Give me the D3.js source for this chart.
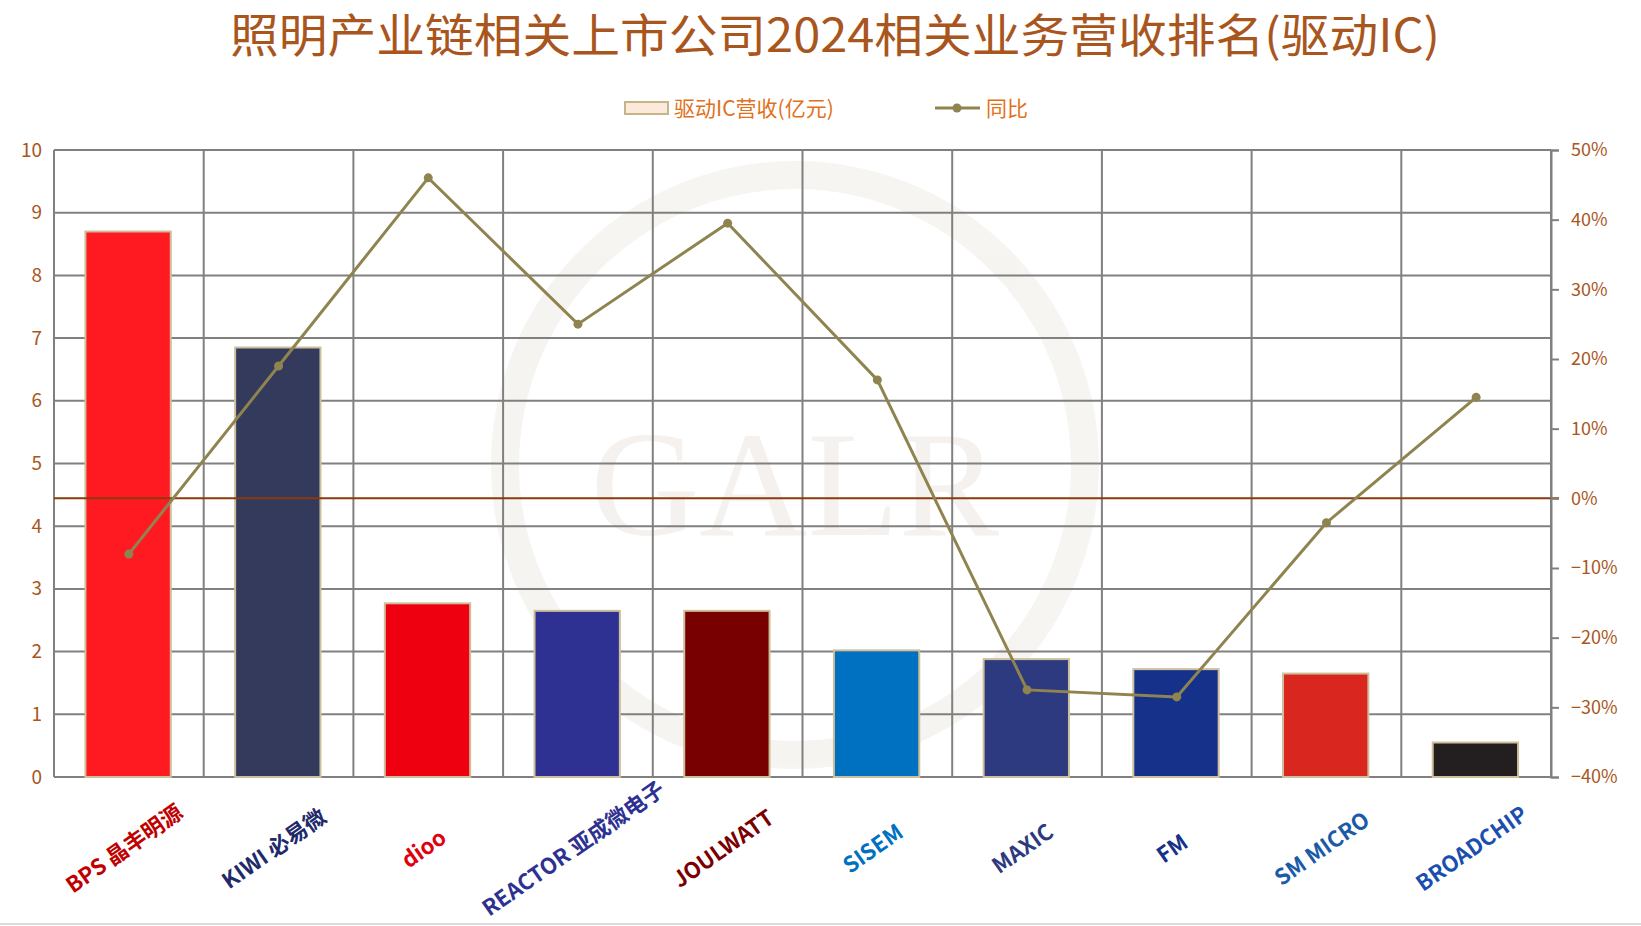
<!DOCTYPE html>
<html><head><meta charset="utf-8">
<script src="https://cdn.jsdelivr.net/npm/d3@7"></script>
<style>body{margin:0;background:#fff}svg{display:block}</style></head>
<body><svg id="c" width="1641" height="926"></svg>
<script>
const companies=["BPS 晶丰明源","KIWI 必易微","dioo","REACTOR 亚成微电子","JOULWATT","SISEM","MAXIC","FM","SM MICRO","BROADCHIP"];
const labelColors=["#c00000","#1f2a6b","#e00010","#2e3192","#7a0000","#0070c0","#2e3a80","#15318a","#1a5aa8","#1a4fb0"];
const revenue=[8.7,6.85,2.77,2.65,2.65,2.02,1.88,1.72,1.65,0.55];
const yoy=[-0.08,0.19,0.46,0.25,0.395,0.17,-0.275,-0.285,-0.035,0.145];
const barColors=["#FF1A22","#343A5C","#EE0010","#2E3192","#790000","#0070C0","#2E3A80","#15318A","#D9261F","#231F20"];
const leftTicks=[0,1,2,3,4,5,6,7,8,9,10];
const rightTicks=[-0.4,-0.3,-0.2,-0.1,0,0.1,0.2,0.3,0.4,0.5];

const svg=d3.select("#c");
const L=54,R=1551,T=150,B=777;
const x=d3.scaleBand().domain(companies).range([L,R]).paddingInner(0).paddingOuter(0);
const y=d3.scaleLinear().domain([0,10]).range([B,T]);
const y2=d3.scaleLinear().domain([-0.4,0.5]).range([B,T]);
const font="'Noto Sans CJK SC','Noto Sans',sans-serif";
const tc="#A9561E";

const wm=svg.append("g").attr("opacity",0.07);
wm.append("circle").attr("cx",795).attr("cy",465).attr("r",290).attr("fill","none").attr("stroke","#8b6b3a").attr("stroke-width",28);
wm.append("text").attr("x",795).attr("y",535).attr("text-anchor","middle").attr("font-family","Liberation Serif,serif").attr("font-size",150).attr("fill","#6b4a2a").text("GALR");

svg.append("g").selectAll("line").data(leftTicks).join("line")
 .attr("x1",L).attr("x2",R).attr("y1",d=>y(d)).attr("y2",d=>y(d)).attr("stroke","#808080").attr("stroke-width",2);
svg.append("g").selectAll("line").data(companies.concat(["end"])).join("line")
 .attr("x1",(d,i)=>L+i*x.step()).attr("x2",(d,i)=>L+i*x.step()).attr("y1",T).attr("y2",B).attr("stroke","#808080").attr("stroke-width",2);

svg.append("g").selectAll("rect").data(revenue).join("rect")
 .attr("x",(d,i)=>x(companies[i])+x.bandwidth()*0.21).attr("width",x.bandwidth()*0.57)
 .attr("y",d=>y(d)).attr("height",d=>B-y(d))
 .attr("fill",(d,i)=>barColors[i]).attr("stroke","#CDBF9A").attr("stroke-width",2);

svg.append("line").attr("x1",L).attr("x2",R+8).attr("y1",y2(0)).attr("y2",y2(0)).attr("stroke","#8B3A0E").attr("stroke-width",2);

const la=svg.append("g").attr("transform",`translate(${L},0)`).call(d3.axisLeft(y).tickValues(leftTicks).tickSize(0).tickPadding(12));
la.select(".domain").remove();
la.selectAll("text").attr("font-family",font).attr("font-size",19).attr("fill",tc);
const ra=svg.append("g").attr("transform",`translate(${R},0)`).call(d3.axisRight(y2).tickValues(rightTicks).tickSize(8).tickPadding(12).tickFormat(d3.format(".0%")));
ra.select(".domain").attr("stroke","#808080").attr("stroke-width",2);
ra.selectAll("line").attr("stroke","#808080").attr("stroke-width",2);
ra.selectAll("text").attr("font-family",font).attr("font-size",18).attr("fill",tc);

const cx=(d,i)=>x(companies[i])+x.bandwidth()*0.5;
svg.append("path").datum(yoy).attr("fill","none").attr("stroke","#8F8450").attr("stroke-width",3)
 .attr("d",d3.line().x(cx).y(d=>y2(d)));
svg.append("g").selectAll("circle").data(yoy).join("circle").attr("cx",cx).attr("cy",d=>y2(d)).attr("r",4.5).attr("fill","#8F8450");

svg.append("g").selectAll("text").data(companies).join("text")
 .attr("transform",(d,i)=>`translate(${x(d)+x.bandwidth()*0.5},${855}) rotate(-35)`)
 .attr("text-anchor","middle").attr("font-family",font).attr("font-weight","bold").attr("font-size",22)
 .attr("fill",(d,i)=>labelColors[i]).text(d=>d);

svg.append("text").attr("x",835).attr("y",52).attr("text-anchor","middle").attr("font-family",font).attr("font-size",46).attr("fill",tc)
 .attr("textLength",1210).attr("lengthAdjust","spacingAndGlyphs")
 .text("照明产业链相关上市公司2024相关业务营收排名(驱动IC)");

const lg=svg.append("g");
lg.append("rect").attr("x",625).attr("y",102).attr("width",43).attr("height",12).attr("fill","#FBE9DA").attr("stroke","#C8B48A").attr("stroke-width",2);
lg.append("text").attr("x",674).attr("y",116).attr("font-family",font).attr("font-size",21).attr("fill","#E2701A").text("驱动IC营收(亿元)");
lg.append("line").attr("x1",935).attr("x2",980).attr("y1",108).attr("y2",108).attr("stroke","#8F8450").attr("stroke-width",3);
lg.append("circle").attr("cx",957).attr("cy",108).attr("r",4.5).attr("fill","#8F8450");
lg.append("text").attr("x",986).attr("y",116).attr("font-family",font).attr("font-size",21).attr("fill","#E2701A").text("同比");
svg.append("line").attr("x1",0).attr("x2",1641).attr("y1",924).attr("y2",924).attr("stroke","#ddd").attr("stroke-width",2);
</script></body></html>
